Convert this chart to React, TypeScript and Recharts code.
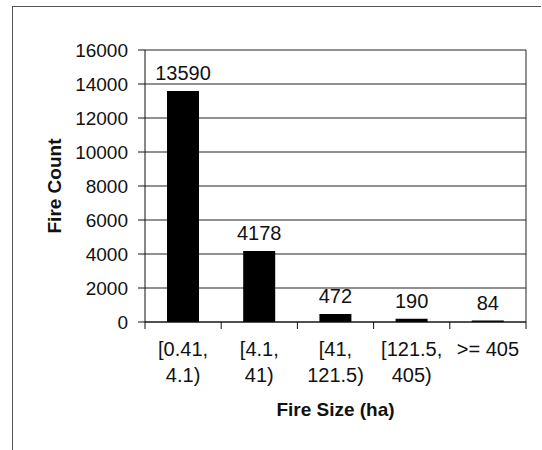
import { BarChart, Bar, XAxis, YAxis, CartesianGrid, LabelList } from 'recharts';

// fire size classes (ha) and counts per class
const sizeClasses = ['[0.41, 4.1)', '[4.1, 41)', '[41, 121.5)', '[121.5, 405)', '>= 405'];
const fireCounts = [13590, 4178, 472, 190, 84];
const countTicks = [0, 2000, 4000, 6000, 8000, 10000, 12000, 14000, 16000];

const data = sizeClasses.map((size, i) => ({ size, count: fireCounts[i] }));

const FONT = '"Liberation Sans", Arial, sans-serif';
const INK = '#111';
const W = 542;
const H = 450;
const Y_AXIS_W = 145;
const X_AXIS_H = 128;
const MARGIN = { top: 50, right: 16, bottom: 0, left: 0 };
const BAND = (W - Y_AXIS_W - MARGIN.right) / sizeClasses.length;

// two-line category label, tick marks sit on the band edges
const SizeTick = ({ x, y, payload, index }: any) => {
    const text = String(payload.value);
    const parts = text.split(', ');
    const lines = parts.length > 1 ? [parts[0] + ',', parts[1]] : [text];
    const half = BAND / 2;
    return (
        <g>
            <line x1={x - half} x2={x - half} y1={y} y2={y + 7} stroke={INK} />
            {index === sizeClasses.length - 1 && (
                <line x1={x + half} x2={x + half} y1={y} y2={y + 7} stroke={INK} />
            )}
            <text x={x} y={y} textAnchor="middle" fontSize={20} fontFamily={FONT} fill={INK}>
                {lines.map((l, i) => (
                    <tspan key={i} x={x} dy={i === 0 ? 34 : 26}>{l}</tspan>
                ))}
            </text>
        </g>
    );
};

export default function App() {
    return (
        <div style={{ position: 'absolute', left: 0, top: 0, width: W, height: H, background: '#fff' }}>
            <div
                style={{
                    position: 'absolute',
                    left: 12,
                    top: 6,
                    width: W - 14,
                    height: H - 6,
                    borderTop: '1px solid #555',
                    borderLeft: '1px solid #555',
                    pointerEvents: 'none',
                }}
            />
            <BarChart width={W} height={H} data={data} margin={MARGIN} style={{ fontFamily: FONT }}>
                <CartesianGrid
                    stroke="#222"
                    horizontal={true}
                    vertical={true}
                    verticalCoordinatesGenerator={({ offset }: any) => [offset.left + offset.width]}
                />
                <XAxis
                    dataKey="size"
                    height={X_AXIS_H}
                    interval={0}
                    tickLine={false}
                    tickSize={0}
                    tickMargin={0}
                    axisLine={{ stroke: INK }}
                    tick={<SizeTick />}
                    label={{
                        value: 'Fire Size (ha)',
                        position: 'center',
                        dy: 23,
                        fontSize: 19,
                        fontWeight: 'bold',
                        fill: INK,
                        fontFamily: FONT,
                    }}
                />
                <YAxis
                    width={Y_AXIS_W}
                    domain={[0, 16000]}
                    ticks={countTicks}
                    interval={0}
                    tickSize={7}
                    tickMargin={10}
                    tickLine={{ stroke: INK }}
                    axisLine={{ stroke: INK }}
                    tick={{ fontSize: 19, fill: INK, fontFamily: FONT }}
                    label={{
                        value: 'Fire Count',
                        angle: -90,
                        position: 'center',
                        dx: -18,
                        fontSize: 19,
                        fontWeight: 'bold',
                        fill: INK,
                        fontFamily: FONT,
                    }}
                />
                <Bar dataKey="count" fill="#000" barSize={32} isAnimationActive={false}>
                    <LabelList dataKey="count" position="top" offset={11} fontSize={20} fill={INK} fontFamily={FONT} />
                </Bar>
            </BarChart>
        </div>
    );
}
